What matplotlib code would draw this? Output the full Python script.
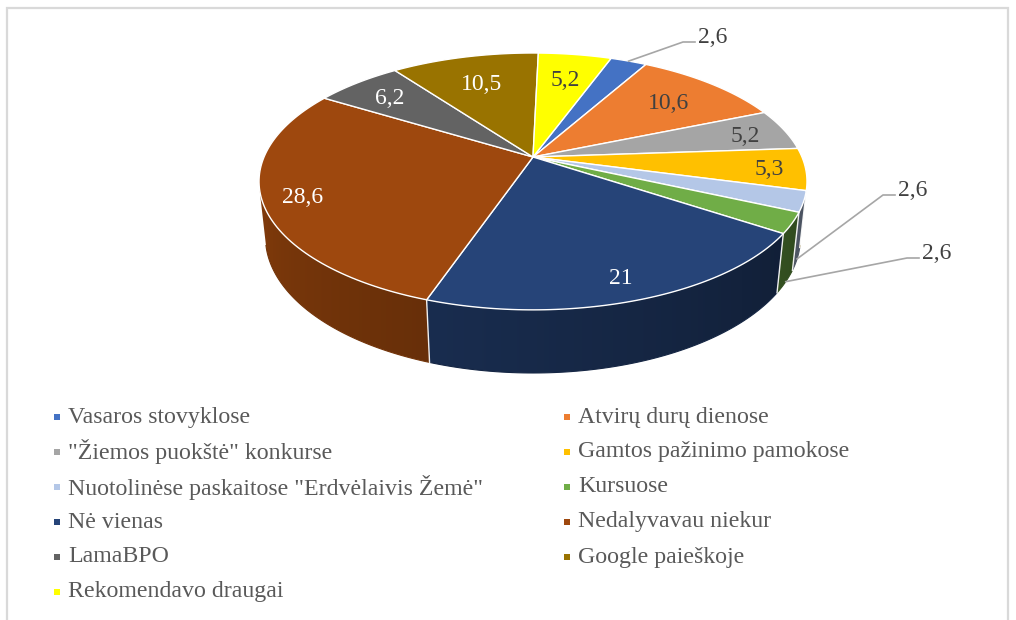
import numpy as np
import matplotlib.pyplot as plt
from matplotlib.patches import Polygon, Rectangle
from matplotlib.colors import to_rgb

# data
categories = ['Vasaros stovyklose', 'Atvirų durų dienose', '"Žiemos puokštė" konkurse',
              'Gamtos pažinimo pamokose', 'Nuotolinėse paskaitose "Erdvėlaivis Žemė"', 'Kursuose',
              'Nė vienas', 'Nedalyvavau niekur', 'LamaBPO', 'Google paieškoje', 'Rekomendavo draugai']
values = [2.6, 10.6, 5.2, 5.3, 2.6, 2.6, 21, 28.6, 6.2, 10.5, 5.2]
labels = ['2,6', '10,6', '5,2', '5,3', '2,6', '2,6', '21', '28,6', '6,2', '10,5', '5,2']
colors = ['#4472C4', '#ED7D31', '#A5A5A5', '#FFC000', '#B4C7E7', '#70AD47',
          '#264478', '#9E480E', '#636363', '#997300', '#FFFF00']
white_labels = [6, 7, 8, 9]

# 3D view of the pie (pixel space)
CX, CY = 533, 157
TILT = np.radians(27.4)
DIST = 4.666
FOC = 1255
THICK = 0.235
START = 20  # first slice angle, clockwise from the back

# label radius inside each slice (None = outside with leader line)
label_radius = [None, .74, .84, .87, None, None, .86, .86, .8, .72, .74]
# leader elbow points for outside labels, pixels
outside = {0: (683, 42), 4: (883, 195), 5: (907, 258)}


def proj(theta, r=1.0, y=0.0):
    t = np.radians(theta)
    x = r * np.sin(t)
    z = r * np.cos(t)
    c, s = np.cos(TILT), np.sin(TILT)
    up = y * c + z * s
    d = DIST + z * c - y * s
    return CX + FOC * x / d, CY - FOC * up / d


fig = plt.figure(figsize=(10.16, 6.2), dpi=100)
ax = fig.add_axes([0, 0, 1, 1])

# chart frame
ax.plot([7, 7, 1008, 1008], [620, 8, 8, 620], color='#d9d9d9', lw=1.6, solid_joinstyle='miter')

total = sum(values)
bounds = START + 360 * np.concatenate([[0], np.cumsum(values)]) / total

# visible part of the outer wall
lim = np.degrees(np.arccos(-1 / (DIST * np.cos(TILT))))
vis_lo, vis_hi = lim, 360 - lim


def shade(theta):
    return np.clip(0.42 + 0.38 * (theta - 105) / 150, 0.3, 0.85)


# outer wall with a left-to-right gradient
for i in range(len(values)):
    a, b = max(bounds[i], vis_lo), min(bounds[i + 1], vis_hi)
    if b <= a:
        continue
    ts = np.linspace(a, b, 80)
    top = np.array([proj(t) for t in ts])
    bot = np.array([proj(t, y=-THICK) for t in ts])
    pts = np.vstack([top, bot[::-1]])
    poly = Polygon(pts, closed=True, facecolor='none', edgecolor='none')
    ax.add_patch(poly)
    base = np.array(to_rgb(colors[i]))
    xs = np.linspace(pts[:, 0].min(), pts[:, 0].max(), 300)
    order = np.argsort(bot[:, 0])
    th = np.interp(xs, bot[order, 0], ts[order])
    img = base[None, None, :] * shade(th)[None, :, None]
    im = ax.imshow(img, extent=[xs[0], xs[-1], pts[:, 1].max() + 1, pts[:, 1].min() - 1],
                   aspect='auto', interpolation='bilinear', zorder=1)
    im.set_clip_path(poly)
    # soften the clipped outline
    ax.add_patch(Polygon(bot, closed=False, fill=False, edgecolor=base * shade((a + b) / 2),
                         lw=0.8, zorder=1.2))

# white seams on the wall
for t in bounds:
    if vis_lo < t < vis_hi:
        x0, y0 = proj(t)
        x1, y1 = proj(t, y=-THICK)
        ax.plot([x0, x1], [y0, y1], color='white', lw=1.0, alpha=0.9, zorder=1.5)

# top faces
for i in range(len(values)):
    ts = np.linspace(bounds[i], bounds[i + 1], 80)
    pts = [proj(0, r=0)] + [proj(t) for t in ts]
    ax.add_patch(Polygon(pts, closed=True, facecolor=colors[i], edgecolor='white', lw=1.0,
                         joinstyle='round', zorder=2))

# data labels
font = 'Liberation Serif'
for i, lab in enumerate(labels):
    mid = (bounds[i] + bounds[i + 1]) / 2
    if i in outside:
        ex, ey = outside[i]
        if np.cos(np.radians(mid)) > 0:
            sx, sy = proj(mid)
        else:
            sx, sy = proj(mid, y=-THICK)
        ax.plot([sx, ex, ex + 12], [sy, ey, ey], color='#a6a6a6', lw=1.2, zorder=3)
        ax.text(ex + 15, ey + 1, lab, fontsize=17, family=font, color='#404040',
                ha='left', va='baseline', zorder=4)
    else:
        lx, ly = proj(mid, r=label_radius[i])
        c = 'white' if i in white_labels else '#404040'
        ax.text(lx, ly, lab, fontsize=17, family=font, color=c, ha='center',
                va='center_baseline', zorder=4)

# legend, two columns
for i, name in enumerate(categories):
    col, row = i % 2, i // 2
    mx = 57 + 510 * col
    my = 417 + 35 * row
    ax.add_patch(Rectangle((mx - 3, my - 3), 6, 6, facecolor=colors[i], edgecolor='none'))
    ax.text(mx + 11, my, name, fontsize=17.2, family=font, color='#595959', ha='left', va='center')

ax.set_xlim(0, 1016)
ax.set_ylim(620, 0)
ax.axis('off')

fig.savefig('out.png', dpi=100, facecolor='white')
